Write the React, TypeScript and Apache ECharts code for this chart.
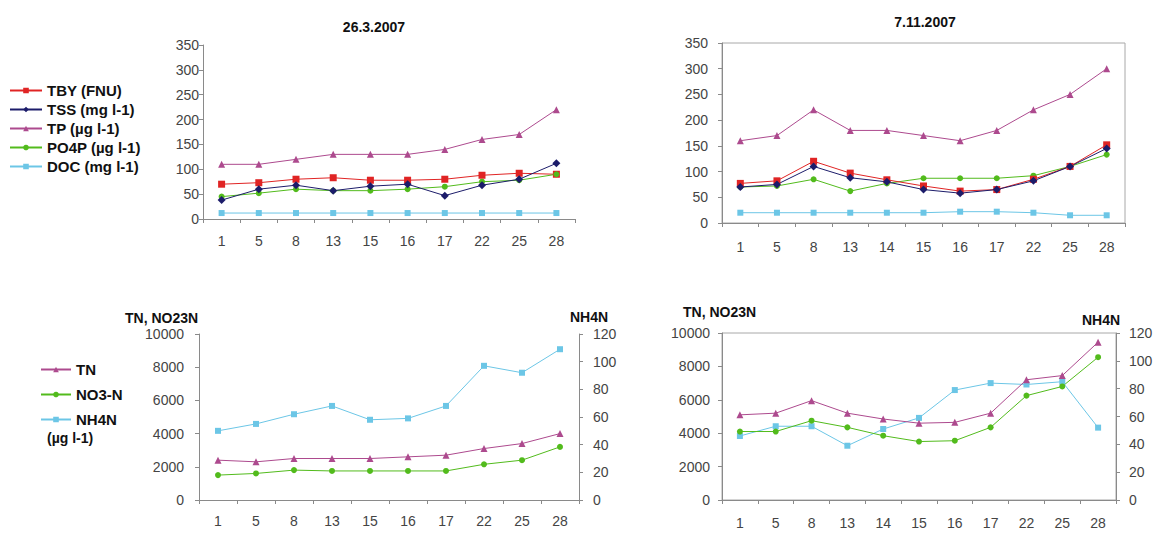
import React, { useEffect, useRef } from 'react';
import * as echarts from 'echarts';

// Sampling stations
const stationsMar = ['1', '5', '8', '13', '15', '16', '17', '22', '25', '28'];
const stationsNov = ['1', '5', '8', '13', '14', '15', '16', '17', '22', '25', '28'];

// 26.3.2007
const tbyMar = [70, 73, 80, 83, 78, 78, 80, 88, 92, 90];
const tssMar = [38, 60, 68, 57, 66, 70, 47, 68, 80, 112];
const tpMar = [110, 110, 120, 130, 130, 130, 140, 160, 170, 220];
const po4pMar = [45, 52, 60, 57, 57, 60, 65, 75, 78, 90];
const docMar = [12, 12, 12, 12, 12, 12, 12, 12, 12, 12];

// 7.11.2007
const tbyNov = [77, 82, 120, 97, 84, 72, 62, 65, 85, 110, 152];
const tssNov = [70, 75, 110, 88, 80, 65, 58, 65, 82, 110, 145];
const tpNov = [160, 170, 220, 180, 180, 170, 160, 180, 220, 250, 300];
const po4pNov = [70, 72, 85, 62, 77, 87, 87, 87, 92, 110, 133];
const docNov = [20, 20, 20, 20, 20, 20, 22, 22, 20, 15, 15];

// Nitrogen fractions (µg l-1)
const tnMar = [2400, 2300, 2500, 2500, 2500, 2600, 2700, 3100, 3400, 4000];
const no3nMar = [1500, 1600, 1800, 1750, 1750, 1750, 1750, 2150, 2400, 3200];
const nh4nMar = [50, 55, 62, 68, 58, 59, 68, 97, 92, 109];

const tnNov = [5100, 5200, 5950, 5200, 4850, 4600, 4650, 5200, 7200, 7450, 9450];
const no3nNov = [4100, 4100, 4750, 4350, 3850, 3500, 3550, 4350, 6250, 6800, 8550];
const nh4nNov = [46, 53, 53, 39, 51, 59, 79, 84, 83, 85, 52];

const FONT = "'Liberation Sans', Arial, sans-serif";
const AXIS_COLOR = '#8a8a8a';
const LABEL_COLOR = '#444';

const C_TBY = '#e02424';
const C_TSS = '#1c1c6a';
const C_TP = '#ad4a8e';
const C_PO4P = '#52bb1c';
const C_DOC = '#6cc6e6';

function lineSeries(
  name: string,
  data: number[],
  color: string,
  symbol: string,
  gridIndex: number,
  yAxisIndex: number,
  symbolSize = 6
) {
  return {
    type: 'line',
    name,
    data,
    xAxisIndex: gridIndex,
    yAxisIndex,
    symbol,
    symbolSize,
    color,
    lineStyle: { width: 1, color },
    itemStyle: { color },
  };
}

function catAxis(data: string[], gridIndex: number, margin: number) {
  return {
    type: 'category',
    gridIndex,
    data,
    boundaryGap: true,
    axisLine: { lineStyle: { color: AXIS_COLOR } },
    axisTick: { show: true, length: 4, lineStyle: { color: AXIS_COLOR } },
    axisLabel: { color: LABEL_COLOR, fontSize: 14, fontFamily: FONT, margin, interval: 0 },
    splitLine: { show: false },
  };
}

function valAxis(
  gridIndex: number,
  max: number,
  interval: number,
  margin: number,
  position: 'left' | 'right' = 'left'
) {
  return {
    type: 'value',
    gridIndex,
    position,
    min: 0,
    max,
    interval,
    axisLine: { show: true, lineStyle: { color: AXIS_COLOR } },
    axisTick: { show: true, length: 4, lineStyle: { color: AXIS_COLOR } },
    axisLabel: {
      color: LABEL_COLOR,
      fontSize: 14,
      fontFamily: FONT,
      margin,
      formatter: (v: number) => String(v),
    },
    splitLine: { show: false },
  };
}

function boldText(text: string, x: number, y: number, align = 'center', size = 14) {
  return {
    type: 'text',
    x,
    y,
    style: {
      text,
      fill: '#111',
      font: `bold ${size}px ${FONT}`,
      align,
      verticalAlign: 'middle',
    },
  };
}

const legendText = { fontWeight: 'bold', fontSize: 15, color: '#111', fontFamily: FONT, lineHeight: 14 };

export default function App() {
  const ref = useRef<HTMLDivElement>(null);

  useEffect(() => {
    if (!ref.current) return;
    const chart = echarts.init(ref.current, undefined, { renderer: 'svg' });

    const option = {
      animation: false,
      backgroundColor: '#fff',
      textStyle: { fontFamily: FONT },
      grid: [
        { left: 203, top: 45, width: 372, height: 174 },
        {
          left: 722,
          top: 43,
          width: 403,
          height: 180,
          show: true,
          borderColor: '#a8a8a8',
          borderWidth: 1,
          backgroundColor: 'transparent',
        },
        { left: 199, top: 334, width: 380, height: 166 },
        {
          left: 722,
          top: 333,
          width: 394,
          height: 167,
          show: true,
          borderColor: '#a8a8a8',
          borderWidth: 1,
          backgroundColor: 'transparent',
        },
      ],
      xAxis: [
        catAxis(stationsMar, 0, 15),
        catAxis(stationsNov, 1, 17),
        catAxis(stationsMar, 2, 14),
        catAxis(stationsNov, 3, 16),
      ],
      yAxis: [
        valAxis(0, 350, 50, 4),
        valAxis(1, 350, 50, 14),
        valAxis(2, 10000, 2000, 15),
        valAxis(2, 120, 20, 14, 'right'),
        valAxis(3, 10000, 2000, 12),
        valAxis(3, 120, 20, 13, 'right'),
      ],
      legend: [
        {
          orient: 'vertical',
          left: 6,
          top: 80,
          padding: 3,
          itemWidth: 32,
          itemHeight: 7,
          itemGap: 4,
          textStyle: legendText,
          data: ['TBY (FNU)', 'TSS (mg l-1)', 'TP (µg l-1)', 'PO4P (µg l-1)', 'DOC (mg l-1)'],
        },
        {
          orient: 'vertical',
          left: 37,
          top: 359,
          padding: 3,
          itemWidth: 30,
          itemHeight: 7,
          itemGap: 10,
          textStyle: legendText,
          data: ['TN', 'NO3-N', 'NH4N'],
        },
      ],
      graphic: [
        boldText('26.3.2007', 374, 27, 'center', 14),
        boldText('7.11.2007', 925, 22, 'center', 14),
        boldText('TN, NO23N', 125, 318, 'left', 14),
        boldText('NH4N', 570, 317, 'left', 14),
        boldText('TN, NO23N', 683, 312, 'left', 14),
        boldText('NH4N', 1082, 320, 'left', 14),
        boldText('(µg l-1)', 47, 438, 'left', 14),
      ],
      series: [
        lineSeries('TP (µg l-1)', tpMar, C_TP, 'triangle', 0, 0, 7),
        lineSeries('TBY (FNU)', tbyMar, C_TBY, 'rect', 0, 0, 7),
        lineSeries('PO4P (µg l-1)', po4pMar, C_PO4P, 'circle', 0, 0, 6),
        lineSeries('TSS (mg l-1)', tssMar, C_TSS, 'diamond', 0, 0, 8),
        lineSeries('DOC (mg l-1)', docMar, C_DOC, 'rect', 0, 0, 6),

        lineSeries('TP (µg l-1)', tpNov, C_TP, 'triangle', 1, 1, 7),
        lineSeries('PO4P (µg l-1)', po4pNov, C_PO4P, 'circle', 1, 1, 6),
        lineSeries('TBY (FNU)', tbyNov, C_TBY, 'rect', 1, 1, 7),
        lineSeries('TSS (mg l-1)', tssNov, C_TSS, 'diamond', 1, 1, 8),
        lineSeries('DOC (mg l-1)', docNov, C_DOC, 'rect', 1, 1, 6),

        lineSeries('NH4N', nh4nMar, C_DOC, 'rect', 2, 3, 6),
        lineSeries('TN', tnMar, C_TP, 'triangle', 2, 2, 7),
        lineSeries('NO3-N', no3nMar, C_PO4P, 'circle', 2, 2, 6),

        lineSeries('NH4N', nh4nNov, C_DOC, 'rect', 3, 5, 6),
        lineSeries('TN', tnNov, C_TP, 'triangle', 3, 4, 7),
        lineSeries('NO3-N', no3nNov, C_PO4P, 'circle', 3, 4, 6),
      ],
    };

    chart.setOption(option as any);
    return () => chart.dispose();
  }, []);

  return (
    <div
      ref={ref}
      style={{ position: 'absolute', left: 0, top: 0, width: 1163, height: 534, background: '#fff' }}
    />
  );
}
